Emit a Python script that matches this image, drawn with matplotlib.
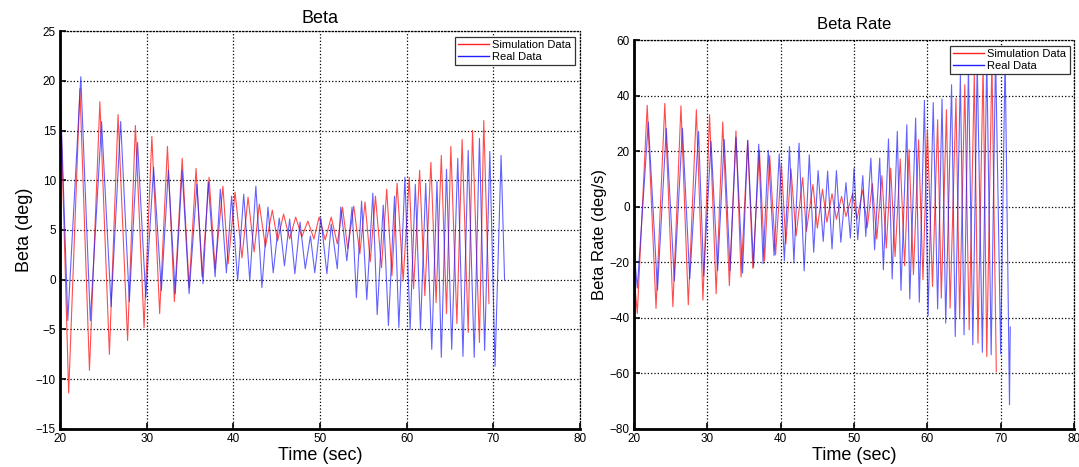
import matplotlib.pyplot as plt
import numpy as np

plt.rcParams['font.family'] = ['Liberation Sans', 'DejaVu Sans']

# Beta (deg) - turning points
beta_sim_t = [20.0, 21.0, 22.3, 23.4, 24.6, 25.7, 26.7, 27.8, 28.7, 29.7, 30.6, 31.5, 32.4, 33.2,
              34.1, 34.9, 35.7, 36.4, 37.2, 37.9, 38.8, 39.4, 40.2, 41.0, 41.7, 42.4, 43.0, 43.7,
              44.5, 45.1, 45.8, 46.5, 47.2, 47.9, 48.6, 49.3, 49.9, 50.6, 51.3, 52.0, 52.6, 53.2,
              53.9, 54.6, 55.2, 55.8, 56.4, 57.1, 57.7, 58.3, 58.9, 59.6, 60.3, 60.8, 61.5, 62.1,
              62.8, 63.4, 64.0, 64.6, 65.1, 65.8, 66.4, 67.1, 67.6, 68.4, 68.9, 69.5]
beta_sim_v = [19.8, -11.4, 19.2, -9.1, 17.9, -7.5, 16.6, -6.1, 15.5, -4.8, 14.4, -3.4, 13.4, -2.2,
              12.2, -0.8, 11.2, 0.3, 10.3, 1.1, 9.4, 1.6, 8.8, 2.2, 8.3, 2.8, 7.6, 3.3,
              7.0, 3.9, 6.6, 4.1, 6.3, 4.3, 5.9, 4.1, 6.3, 4.0, 6.3, 3.6, 7.3, 3.1,
              7.4, 2.6, 7.8, 1.8, 8.4, 1.2, 9.1, 0.4, 9.7, -0.1, 10.3, -0.9, 11.0, -1.6,
              11.8, -2.3, 12.5, -3.4, 13.4, -4.4, 14.1, -5.3, 15.0, -6.3, 16.0, -2.4]

beta_real_t = [20.0, 20.9, 22.4, 23.5, 24.8, 25.9, 27.0, 28.0, 28.95, 29.9, 30.8, 31.7, 32.5, 33.3,
               34.1, 34.9, 35.8, 36.5, 37.1, 37.9, 38.5, 39.2, 39.8, 40.5, 41.2, 41.9, 42.6, 43.3,
               44.0, 44.6, 45.3, 45.9, 46.5, 47.1, 47.7, 48.3, 48.9, 49.4, 50.1, 50.8, 51.3, 52.0,
               52.4, 53.1, 53.7, 54.2, 54.8, 55.4, 56.1, 56.6, 57.3, 57.9, 58.6, 59.1, 59.8, 60.4,
               61.0, 61.6, 62.2, 62.9, 63.5, 64.0, 64.6, 65.2, 65.9, 66.5, 67.1, 67.8, 68.4, 69.0,
               69.6, 70.2, 70.9, 71.3]
beta_real_v = [19.8, -4.1, 20.4, -4.1, 15.9, -2.7, 15.9, -2.2, 13.8, -1.8, 11.3, -1.1, 11.0, -1.4,
               11.0, -1.4, 9.6, -0.4, 9.8, 0.3, 9.1, 0.7, 8.4, -0.1, 8.6, -0.1, 9.4, -0.8,
               7.3, 0.7, 6.2, 1.4, 6.1, 0.6, 5.8, 1.1, 4.4, 0.7, 6.2, 0.6, 5.6, 1.1,
               7.3, 1.9, 7.3, -1.8, 7.9, -2.0, 8.7, -3.5, 7.5, -4.6, 8.4, -4.8, 10.3, -5.0,
               9.6, -5.0, 9.7, -7.0, 9.9, -7.8, 11.1, -7.0, 12.2, -7.7, 13.0, -7.8, 14.2, -7.1,
               12.9, -8.7, 12.5, 0.0]

# Beta Rate (deg/s) - turning points
rate_sim_t = [20.0, 20.45, 21.8, 23.0, 24.2, 25.3, 26.4, 27.4, 28.5, 29.4, 30.3, 31.2, 32.1, 33.0,
              33.9, 34.6, 35.5, 36.2, 37.1, 37.8, 38.5, 39.3, 40.1, 40.7, 41.4, 42.1, 43.0, 43.5,
              44.4, 45.0, 45.7, 46.3, 47.0, 47.6, 48.3, 48.9, 49.8, 50.4, 51.2, 51.8, 52.5, 53.1,
              53.8, 54.4, 55.0, 55.6, 56.3, 56.9, 57.5, 58.1, 58.8, 59.4, 60.0, 60.7, 61.4, 61.9,
              62.6, 63.1, 63.9, 64.4, 65.1, 65.7, 66.4, 66.9, 67.6, 68.1, 68.8, 69.4]
rate_sim_v = [-25.0, -38.4, 36.5, -36.6, 37.2, -36.0, 36.3, -35.3, 34.9, -33.6, 33.1, -31.3, 30.5, -28.4,
              27.3, -25.3, 23.8, -22.2, 20.3, -19.5, 18.4, -17.3, 15.2, -13.4, 13.6, -10.5, 10.5, -8.9,
              8.0, -7.7, 6.3, -5.6, 4.7, -4.5, 3.7, -3.5, 4.7, -4.5, 6.1, -7.5, 8.3, -11.6,
              11.2, -14.9, 13.9, -17.9, 17.2, -21.2, 20.5, -24.5, 24.1, -26.3, 27.7, -28.7, 31.3, -32.9,
              34.9, -36.5, 39.1, -40.1, 43.9, -44.3, 48.0, -49.1, 51.0, -53.9, 53.0, -59.3]

rate_real_t = [20.0, 20.45, 21.95, 23.2, 24.4, 25.5, 26.6, 27.6, 28.8, 29.5, 30.5, 31.4, 32.3, 33.1,
               33.9, 34.8, 35.5, 36.3, 37.0, 37.6, 38.3, 39.1, 39.8, 40.5, 41.2, 41.8, 42.5, 43.2,
               43.9, 44.5, 45.1, 45.8, 46.4, 47.0, 47.6, 48.2, 48.9, 49.5, 50.0, 50.5, 51.2, 51.6,
               52.3, 52.8, 53.5, 54.0, 54.7, 55.2, 55.9, 56.4, 57.2, 57.6, 58.4, 58.9, 59.6, 60.1,
               60.8, 61.4, 62.0, 62.5, 63.3, 63.8, 64.5, 65.0, 65.6, 66.2, 66.8, 67.5, 68.1, 68.7,
               69.3, 70.0, 70.6, 71.2, 71.3]
rate_real_v = [-16.0, -29.3, 30.5, -30.1, 28.2, -26.7, 28.3, -26.0, 27.1, -25.0, 23.5, -23.0, 24.2, -23.0,
               25.0, -23.9, 23.9, -21.8, 22.5, -20.5, 20.3, -17.6, 19.0, -19.4, 21.7, -20.2, 22.9, -23.1,
               18.7, -16.4, 13.0, -12.5, 12.8, -15.2, 13.0, -12.8, 8.7, -11.3, 13.9, -11.9, 11.2, -10.7,
               17.5, -15.5, 17.5, -22.7, 24.4, -26.0, 27.1, -30.1, 29.5, -33.2, 31.9, -34.4, 38.3, -39.2,
               37.5, -36.8, 38.8, -41.9, 43.9, -46.7, 47.5, -46.1, 50.0, -49.7, 52.0, -52.4, 54.0, -53.3,
               55.0, -52.9, 55.0, -71.3, -43.3]

legend_labels = ['Simulation Data', 'Real Data']
sim_color = '#ff2020'
real_color = '#2020ff'


def style_axes(ax, yticks):
    ax.set_xlim(20, 80)
    ax.set_xticks(np.arange(20, 81, 10))
    ax.set_ylim(yticks[0], yticks[-1])
    ax.set_yticks(yticks)
    # top/right edges look like the dotted grid in the original
    for s in ['top', 'right']:
        ax.spines[s].set_linestyle(':')
        ax.spines[s].set_linewidth(0.9)
    for s in ['left', 'bottom']:
        ax.spines[s].set_linewidth(2.0)
    ax.tick_params(direction='in', length=4, width=1.2, labelsize=8.5, pad=3)
    ax.grid(True, linestyle=':', color='k', linewidth=0.9)
    ax.set_axisbelow(True)


def add_legend(ax):
    leg = ax.legend(loc='upper right', bbox_to_anchor=(0.99, 0.985), fontsize=8, fancybox=False,
                    framealpha=1, edgecolor='#333333', borderaxespad=0, handlelength=2.8,
                    labelspacing=0.15, borderpad=0.3, handletextpad=0.3)
    leg.get_frame().set_linewidth(0.9)
    for line, c in zip(leg.get_lines(), [sim_color, real_color]):
        line.set_color(c)
        line.set_alpha(1)
        line.set_linewidth(1.0)
    leg.set_zorder(5)


fig = plt.figure(figsize=(10.79, 4.67), dpi=100)

ax1 = fig.add_axes([0.0556, 0.0814, 0.4819, 0.8522])
ax1.plot(beta_sim_t, beta_sim_v, color=sim_color, lw=0.8, alpha=0.8, label=legend_labels[0])
ax1.plot(beta_real_t, beta_real_v, color=real_color, lw=0.8, alpha=0.7, label=legend_labels[1])
style_axes(ax1, np.arange(-15, 26, 5))
ax1.set_title('Beta', fontsize=13, pad=6)
ax1.set_xlabel('Time (sec)', fontsize=13, labelpad=1)
ax1.set_ylabel('Beta (deg)', fontsize=13, labelpad=2)
add_legend(ax1)

ax2 = fig.add_axes([0.5876, 0.0814, 0.4078, 0.8329])
ax2.plot(rate_sim_t, rate_sim_v, color=sim_color, lw=0.8, alpha=0.8, label=legend_labels[0])
ax2.plot(rate_real_t, rate_real_v, color=real_color, lw=0.8, alpha=0.7, label=legend_labels[1])
style_axes(ax2, np.arange(-80, 61, 20))
ax2.set_title('Beta Rate', fontsize=12, pad=8)
ax2.set_xlabel('Time (sec)', fontsize=13, labelpad=1)
ax2.set_ylabel('Beta Rate (deg/s)', fontsize=12, labelpad=2)
add_legend(ax2)

fig.savefig('out.png', dpi=100)
